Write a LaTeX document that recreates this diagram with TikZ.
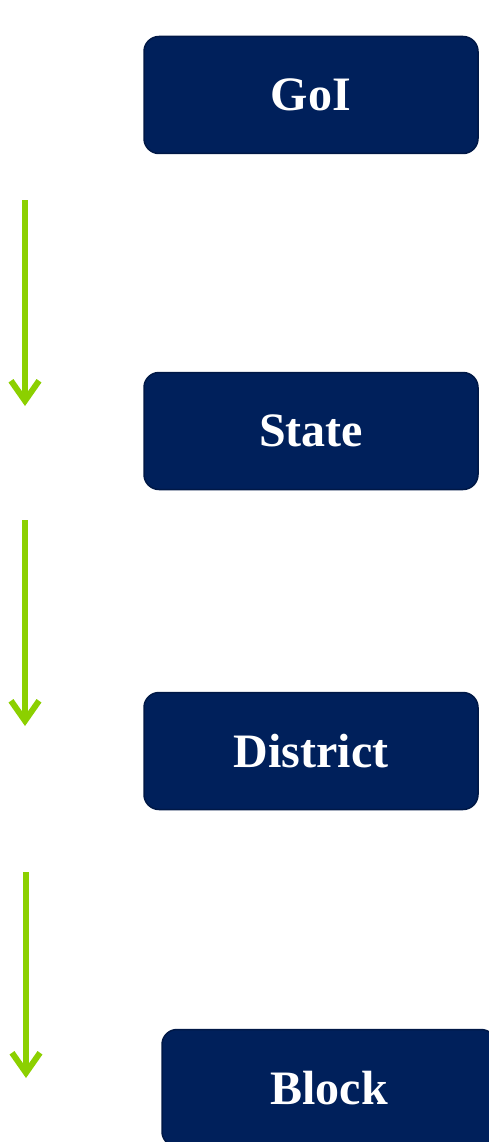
\documentclass[tikz,border=0pt]{standalone}
\usepackage{fontspec}
\setmainfont{Liberation Serif}
\usetikzlibrary{arrows.meta}
\definecolor{navy}{RGB}{0,32,91}
\definecolor{navyedge}{RGB}{0,24,70}
\definecolor{lime}{RGB}{140,208,0}
\tikzset{
  levelbox/.style={draw=navyedge, line width=1.5pt, fill=navy, rounded corners=15pt,
    minimum width=334pt, minimum height=117pt, inner sep=0pt,
    text=white, font=\bfseries\fontsize{48}{52}\selectfont},
  flow/.style={draw=lime, line width=6pt, -{Straight Barb[length=20pt,width=28pt,line width=6pt]}}
}
\begin{document}
\begin{tikzpicture}[x=1pt,y=-1pt]
\useasboundingbox (0,0) rectangle (489,1142);
\node[levelbox] (goi) at (311,95) {GoI};
\node[levelbox] (state) at (311,431) {State};
\node[levelbox] (district) at (311,751) {District};
\node[levelbox] (block) at (329,1088) {Block};
\coordinate (a1s) at (25,200); \coordinate (a1e) at (25,406);
\coordinate (a2s) at (25,520); \coordinate (a2e) at (25,726);
\coordinate (a3s) at (26,872); \coordinate (a3e) at (26,1078);
\draw[flow] (a1s) -- (a1e);
\draw[flow] (a2s) -- (a2e);
\draw[flow] (a3s) -- (a3e);
\end{tikzpicture}
\end{document}
